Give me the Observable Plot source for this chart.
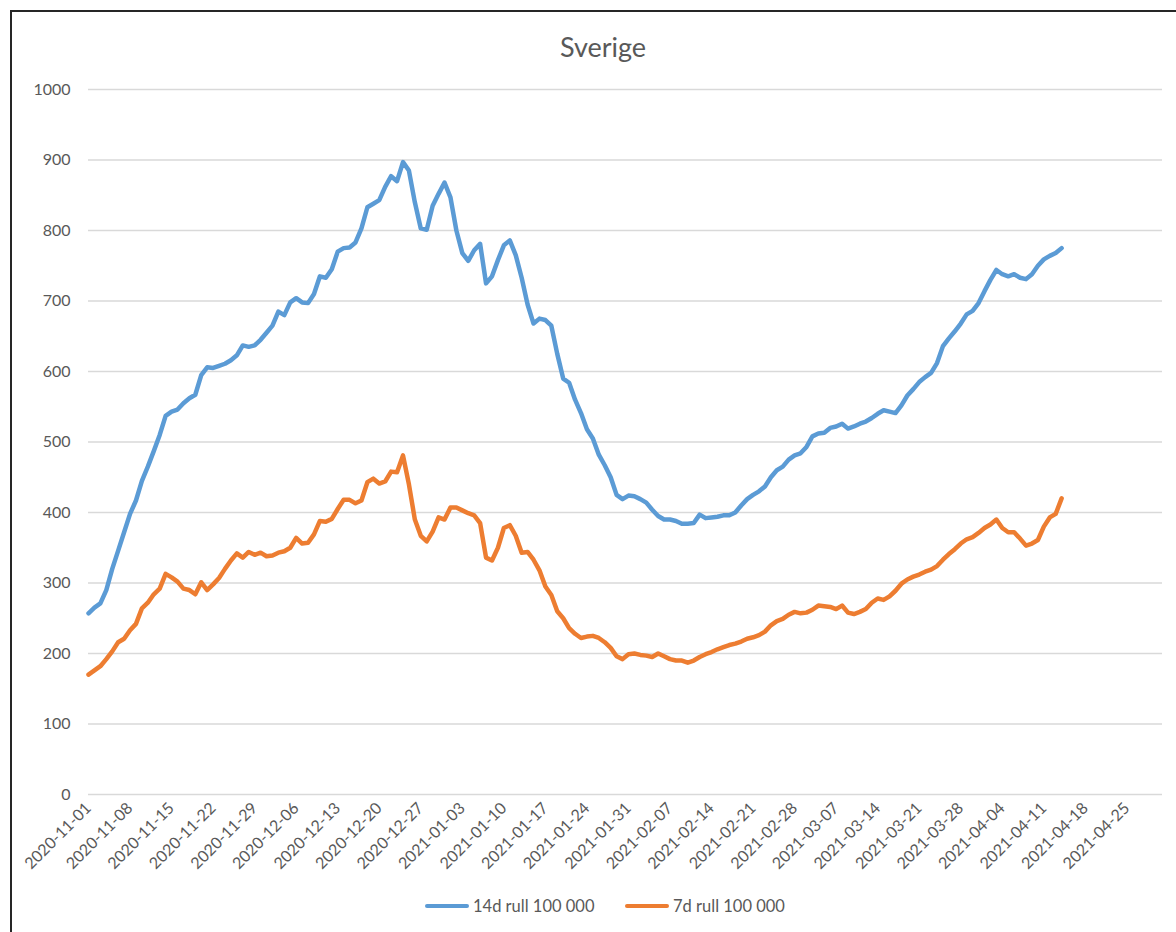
<!DOCTYPE html>
<html>
<head>
<meta charset="utf-8">
<script src="https://cdn.jsdelivr.net/npm/d3@7"></script>
<script src="https://cdn.jsdelivr.net/npm/@observablehq/plot@0.6"></script>
<style>
  html, body { margin: 0; padding: 0; background: #fff; width: 1176px; height: 932px; overflow: hidden; }
  #frame { position: absolute; left: 10px; top: 10px; width: 1200px; height: 1000px; border-left: 2px solid #262626; border-top: 2px solid #262626; }
  #title { position: absolute; left: 0; width: 1206px; top: 30px; text-align: center; font: 27px Lato, sans-serif; color: #595959; }
  #chart { position: absolute; left: 0; top: 0; }
  #legend { position: absolute; top: 896px; left: 0; width: 1176px; font: 16.5px Lato, sans-serif; color: #595959; }
  .item { position: absolute; display: flex; align-items: center; white-space: nowrap; }
  .sw { width: 44px; height: 4.5px; border-radius: 2px; margin-right: 4px; }
</style>
</head>
<body>
<div id="frame"></div>
<div id="chart"></div>
<div id="title">Sverige</div>
<div id="legend"></div>
<script>
// ---- data (daily, starting 2020-11-01) ----
const startDate = "2020-11-01";
const seriesNames = ["14d rull 100 000", "7d rull 100 000"];
const seriesColors = ["#5b9bd5", "#ed7d31"];
const rull14 = [
  257,265,271,290,320,346,372,398,417,445,465,487,510,537,543,546,555,562,567,595,
  606,605,608,611,616,623,637,635,637,645,655,665,685,680,698,704,698,697,710,735,
  733,745,770,775,776,783,803,833,838,843,862,877,870,897,885,840,803,801,835,852,
  868,847,800,768,757,772,781,725,735,758,779,786,765,733,695,668,675,673,665,625,
  590,584,560,541,518,505,482,467,450,425,419,424,423,419,414,404,395,390,390,388,
  384,384,385,397,392,393,394,396,396,400,410,419,425,430,437,450,460,465,475,481,
  484,493,508,512,513,520,522,526,519,522,526,529,534,540,545,543,541,552,566,575,
  585,592,598,612,636,647,657,668,681,686,697,714,730,744,738,735,738,733,731,738,
  750,759,764,768,775
];
const rull7 = [
  170,176,182,192,203,216,221,233,242,264,272,284,292,313,308,302,292,290,284,301,
  290,298,307,320,332,342,336,344,340,343,338,339,343,345,350,364,356,357,369,388,
  387,391,405,418,418,413,417,443,448,441,444,458,457,481,440,390,367,359,373,393,
  390,407,407,403,399,396,385,336,332,350,378,382,367,343,344,333,318,295,283,260,
  250,236,228,222,224,225,222,216,208,196,192,199,200,198,197,195,200,196,192,190,
  190,187,190,195,199,202,206,209,212,214,217,221,223,226,231,240,246,249,255,259,
  257,258,262,268,267,266,263,268,258,256,259,263,272,278,276,281,289,299,305,309,
  312,316,319,324,333,341,348,356,362,365,371,378,383,390,378,372,372,363,353,356,
  361,380,393,398,420
];
const xDomain = ["2020-11-01", "2021-05-01"];
const tickLabels = [
  "2020-11-01","2020-11-08","2020-11-15","2020-11-22","2020-11-29","2020-12-06",
  "2020-12-13","2020-12-20","2020-12-27","2021-01-03","2021-01-10","2021-01-17",
  "2021-01-24","2021-01-31","2021-02-07","2021-02-14","2021-02-21","2021-02-28",
  "2021-03-07","2021-03-14","2021-03-21","2021-03-28","2021-04-04","2021-04-11",
  "2021-04-18","2021-04-25"
];
const yTicks = [0,100,200,300,400,500,600,700,800,900,1000];

// ---- build ----
const t0 = new Date(startDate + "T00:00:00Z").getTime();
const toRows = (arr, name) => arr.map((v, i) => ({date: new Date(t0 + i * 864e5), value: v, series: name}));
const rows14 = toRows(rull14, seriesNames[0]);
const rows7 = toRows(rull7, seriesNames[1]);
const fmt = d3.utcFormat("%Y-%m-%d");

const chart = Plot.plot({
  width: 1176,
  height: 880,
  marginLeft: 88,
  marginRight: 14,
  marginTop: 89,
  marginBottom: 86,
  style: {fontFamily: "Lato, sans-serif", fontSize: "16px", color: "#595959", background: "transparent"},
  x: {type: "utc", domain: xDomain.map(s => new Date(s + "T00:00:00Z"))},
  y: {domain: [0, 1000]},
  marks: [
    Plot.gridY(yTicks, {stroke: "#d9d9d9", strokeOpacity: 1, strokeWidth: 1.5}),
    Plot.axisY(yTicks, {tickSize: 0, tickPadding: 18, label: null, fill: "#595959", tickFormat: d => String(d)}),
    Plot.axisX(tickLabels.map(s => new Date(s + "T00:00:00Z")), {
      tickSize: 0, tickPadding: 11, tickRotate: -45, tickFormat: fmt, label: null, fill: "#595959"
    }),
    Plot.line(rows14, {x: "date", y: "value", stroke: seriesColors[0], strokeWidth: 4.5, strokeLinejoin: "round", strokeLinecap: "round"}),
    Plot.line(rows7, {x: "date", y: "value", stroke: seriesColors[1], strokeWidth: 4.5, strokeLinejoin: "round", strokeLinecap: "round"})
  ]
});
document.getElementById("chart").appendChild(chart);

// ---- legend ----
const legend = document.getElementById("legend");
const legendX = [425, 625];
seriesNames.forEach((name, i) => {
  const item = document.createElement("div");
  item.className = "item";
  item.style.left = legendX[i] + "px";
  item.style.top = "0px";
  const sw = document.createElement("span");
  sw.className = "sw";
  sw.style.background = seriesColors[i];
  const tx = document.createElement("span");
  tx.textContent = name;
  item.appendChild(sw);
  item.appendChild(tx);
  legend.appendChild(item);
});
</script>
</body>
</html>
